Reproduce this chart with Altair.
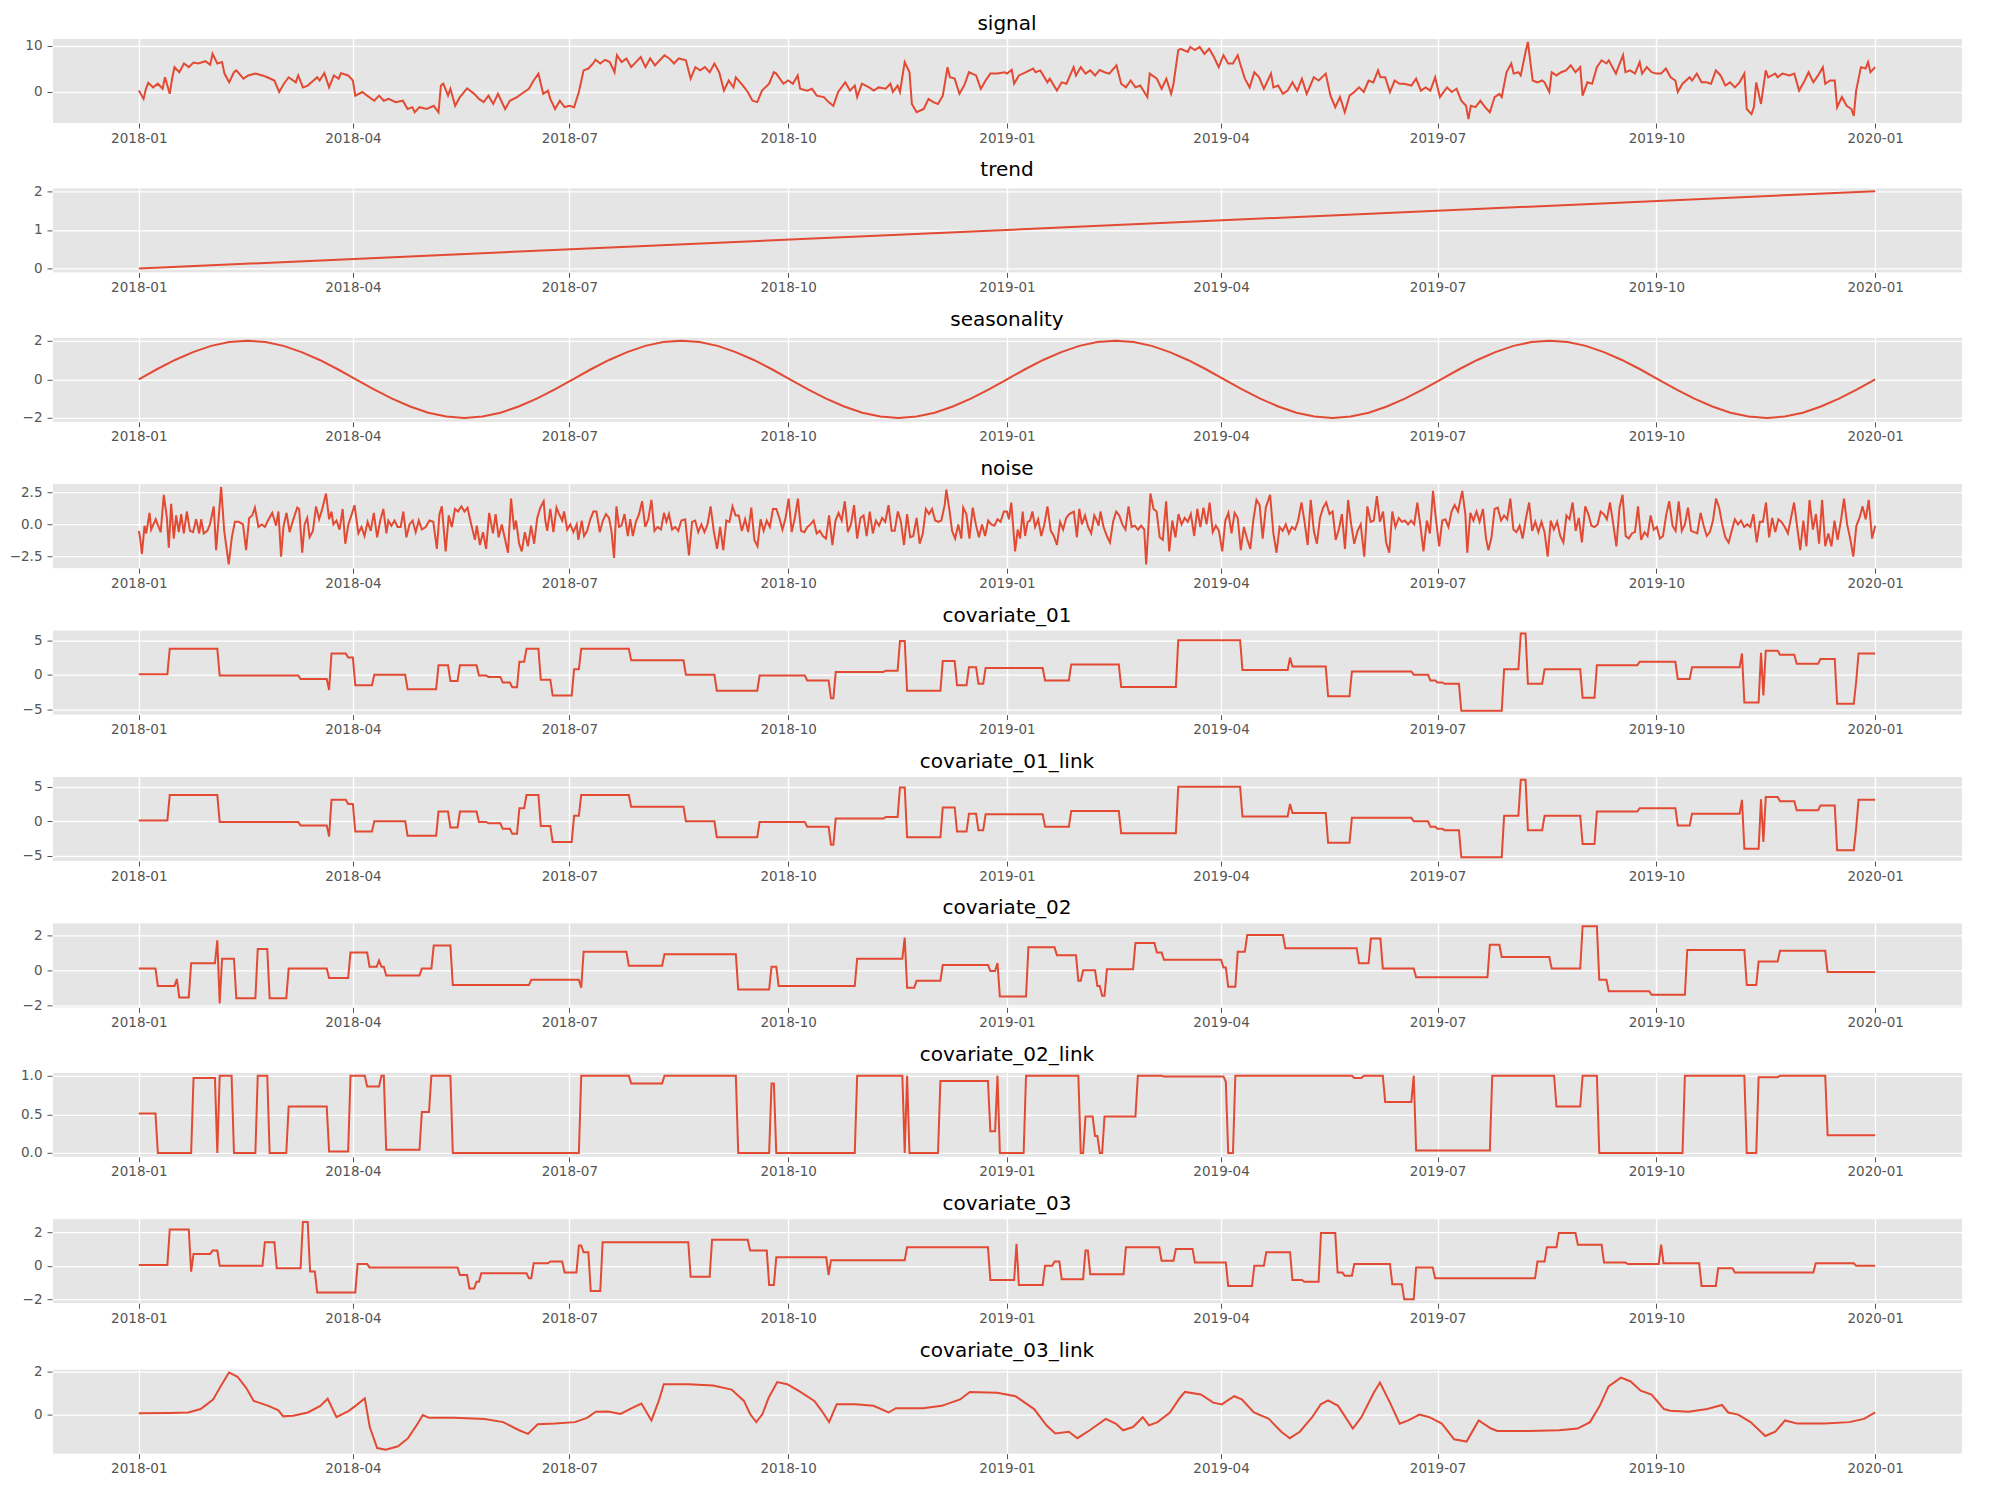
import altair as alt
import numpy as np
import pandas as pd

BASE = pd.Timestamp("2018-01-01")
END_DAY = 730

# ---------------- data ----------------
# (day offset from 2018-01-01, value)
SIGNAL = [(0,0.2),(2,-1.6),(3,0.6),(4,1.9),(6,0.9),(8,1.7),(10,0.6),(11,3.1),(13,-0.5),(14,2.8),(15,5.3),(17,4.2),(19,6.1),(21,5.3),(23,6.3),(25,6.1),(28,6.6),(30,5.8),(31,8.2),(33,6.1),(35,6.4),(36,3.9),(38,2.0),(40,4.2),(41,4.6),(44,2.8),(46,3.5),(49,3.9),(52,3.5),(54,3.1),(57,2.4),(59,-0.1),(61,1.7),(63,3.1),(66,2.0),(67,3.5),(69,0.9),(71,1.3),(75,3.1),(76,2.4),(78,4.0),(80,0.9),(82,3.5),(84,2.8),(85,4.0),(88,3.5),(90,2.4),(91,-0.9),(94,-0.1),(96,-0.9),(99,-2.0),(101,-0.9),(103,-2.0),(105,-1.6),(108,-2.3),(111,-2.0),(113,-3.8),(115,-3.4),(116,-4.5),(118,-3.4),(121,-3.8),(124,-3.1),(126,-4.5),(127,1.3),(128,1.7),(130,-0.9),(131,0.6),(133,-3.1),(135,-1.2),(138,0.7),(141,-0.5),(143,-1.6),(145,-2.3),(147,-0.9),(149,-2.7),(151,-0.5),(154,-3.8),(156,-2.0),(159,-1.2),(162,-0.1),(164,0.6),(166,2.4),(168,3.9),(170,-0.5),(172,0.2),(173,-1.6),(175,-3.8),(177,-2.0),(179,-3.4),(181,-3.1),(183,-3.4),(185,-0.1),(187,4.6),(189,5.0),(191,6.1),(192,6.9),(194,6.1),(196,6.9),(198,6.4),(200,4.2),(201,7.9),(203,6.4),(205,7.2),(207,5.3),(209,6.4),(211,7.5),(213,5.3),(215,7.2),(217,5.7),(219,6.8),(221,7.9),(223,7.2),(225,6.1),(227,7.2),(230,6.8),(232,2.8),(234,5.3),(236,4.6),(238,5.3),(240,4.2),(242,6.1),(244,4.2),(246,0.2),(248,2.4),(250,0.9),(251,3.1),(254,1.3),(256,-0.1),(258,-2.0),(260,-2.3),(262,0.2),(265,1.7),(267,4.2),(268,3.9),(271,1.7),(273,2.4),(275,1.7),(277,3.5),(278,0.6),(281,0.2),(283,0.6),(285,-0.9),(288,-1.2),(290,-2.3),(292,-3.1),(294,-0.1),(297,2.0),(299,0.2),(301,1.3),(302,-1.2),(304,1.7),(307,0.9),(309,0.2),(311,0.9),(314,0.6),(316,1.7),(317,-0.1),(319,1.3),(320,-0.1),(322,6.4),(324,4.2),(325,-2.7),(327,-4.5),(330,-3.8),(332,-1.6),(334,-2.3),(336,-2.7),(338,-0.9),(340,5.3),(341,3.1),(343,2.8),(345,-0.5),(347,1.3),(349,4.2),(352,3.5),(354,0.6),(356,2.4),(358,3.9),(361,3.9),(364,4.2),
          (365,3.9),(367,4.7),(368,1.7),(370,3.5),(373,4.2),(376,5.0),(377,4.2),(379,4.6),(382,2.0),(383,2.8),(386,0.2),(388,2.0),(390,1.7),(393,5.3),(394,3.5),(396,5.3),(398,3.9),(400,4.6),(402,3.5),(404,4.7),(406,4.2),(408,3.9),(411,5.7),(413,1.7),(415,0.9),(417,2.4),(419,0.9),(421,1.3),(424,-1.2),(425,3.9),(428,2.8),(430,0.6),(432,2.8),(434,-0.5),(435,1.7),(437,9.0),(438,9.3),(441,8.6),(442,9.7),(444,9.0),(446,9.7),(448,8.2),(450,9.3),(452,7.5),(454,5.3),(456,7.9),(458,6.1),(460,6.1),(462,7.9),(463,6.1),(465,2.8),(467,0.9),(469,4.2),(471,3.1),(473,0.6),(476,3.9),(477,0.9),(479,1.3),(481,-0.5),(483,0.2),(485,2.0),(487,0.2),(489,2.8),(491,-0.5),(494,3.1),(496,2.4),(499,3.9),(501,-0.9),(503,-3.4),(505,-1.2),(507,-4.5),(509,-0.9),(511,-0.1),(513,0.9),(515,-0.1),(517,2.4),(519,2.0),(521,4.6),(522,3.1),(524,3.1),(526,-0.1),(528,2.4),(530,1.7),(532,1.7),(535,1.3),(537,2.8),(539,0.2),(541,0.9),(543,0.2),(545,3.1),(547,-1.2),(549,0.2),(550,0.9),(552,-0.1),(554,0.6),(556,-2.0),(558,-3.1),(559,-6.0),(560,-3.1),(562,-3.4),(564,-2.0),(566,-3.4),(568,-4.5),(570,-1.2),(572,-0.5),(573,-1.2),(575,4.2),(577,6.1),(578,3.9),(580,4.2),(581,3.5),(583,8.6),(584,10.8),(586,2.4),(588,2.0),(590,2.4),(591,2.0),(593,-0.1),(594,4.2),(596,3.5),(598,4.2),(600,4.6),(602,5.7),(604,4.2),(606,5.3),(607,-0.9),(609,2.0),(611,1.7),(613,5.3),(615,6.8),(617,6.1),(618,6.8),(621,3.9),(622,5.3),(624,7.9),(625,4.2),(627,4.6),(629,3.9),(631,6.4),(632,3.9),(634,5.3),(636,4.2),(638,3.9),(640,3.9),(642,5.0),(644,3.1),(646,2.4),(647,-0.1),(649,1.7),(652,3.1),(653,2.4),(655,3.9),(657,2.0),(659,2.0),(661,1.7),(663,4.6),(665,3.5),(667,1.3),(669,2.0),(671,0.9),(673,2.0),(675,3.9),(676,-3.8),(678,-4.9),(679,-3.4),(680,2.0),(682,-2.7),(684,4.6),(685,3.1),(688,3.9),(689,3.1),(691,3.9),(694,3.5),(696,3.9),(698,0.2),(700,2.0),(702,4.2),(704,2.0),(706,3.5),(708,5.3),(709,1.7),(711,2.4),(713,2.4),(714,-3.4),(716,-1.2),(718,-3.1),(720,-3.8),(721,-5.3),(722,0.2),(724,5.3),(726,5.0),(727,6.4),(728,4.2),(730,5.3)]

TREND = [(0, 0.0), (730, 2.0)]

SEASON_VALUES = [0.0,0.52,1.0,1.41,1.73,1.93,2.0,1.93,1.73,1.41,1.0,0.52,0.0,-0.52,-1.0,-1.41,-1.73,-1.93,-2.0,-1.93,-1.73,-1.41,-1.0,-0.52,
                 0.0,0.52,1.0,1.41,1.73,1.93,2.0,1.93,1.73,1.41,1.0,0.52,0.0,-0.52,-1.0,-1.41,-1.73,-1.93,-2.0,-1.93,-1.73,-1.41,-1.0,-0.52,
                 0.0,0.52,1.0,1.41,1.73,1.93,2.0,1.93,1.73,1.41,1.0,0.52,0.0,-0.52,-1.0,-1.41,-1.73,-1.93,-2.0,-1.93,-1.73,-1.41,-1.0,-0.52,
                 0.0,0.52,1.0,1.41,1.73,1.93,2.0,1.93,1.73,1.41,1.0,0.52,0.0,-0.52,-1.0,-1.41,-1.73,-1.93,-2.0,-1.93,-1.73,-1.41,-1.0,-0.52,
                 0.0]

NOISE_2018 = [(0,-0.5),(0.5,-1.0),(1.3,-2.3),(2.4,-0.1),(3.1,-0.7),(4.5,0.9),(5.2,-0.4),(7.1,0.4),(7.9,0.0),(9.2,-0.6),(10.5,2.3),(11.8,0.5),(12.6,-1.8),(13.6,1.6),(14.7,-1.1),(15.7,0.7),(16.8,-0.6),(17.8,0.8),(18.9,-0.7),(20.2,1.0),(21.5,-0.5),(22.8,-0.6),(24.1,0.4),(25.4,-0.7),(26.2,0.4),(27.3,-0.7),(28.8,-0.5),(29.9,0.0),(31.5,1.4),(32.5,-2.0),(34.6,2.9),(35.9,-0.5),(37.8,-3.1),(39.1,-1.0),(40.4,0.2),(42.0,0.2),(43.8,0.0),(45.1,-2.0),(46.4,0.5),(47.7,0.7),(48.8,1.3),(50.3,-0.2),(51.7,0.0),(53.0,-0.2),(54.3,0.3),(56.1,0.9),(57.7,-0.1),(58.7,1.0),(59.8,-2.5),(60.8,-0.2),(62.1,0.9),(63.4,-0.6),(64.8,0.3),(66.6,1.3),(67.4,1.2),(68.7,-2.2),(69.7,0.0),(70.8,0.5),(71.8,-1.0),(73.2,-0.5),(74.5,1.4),(75.8,0.4),(77.1,1.2),(78.7,2.4),(80.0,0.4),(81.0,1.0),(81.8,0.0),(83.1,0.3),(84.4,-0.4),(85.7,1.2),(86.8,-1.5),(88.1,0.0),(89.7,0.9),(90.7,1.5),(92.3,-0.7),(93.6,-0.2),(94.9,-0.9),(96.2,0.2),(97.5,-0.5),(98.8,0.9),(100.2,-1.0),(101.5,0.3),(102.8,1.2),(104.1,-0.7),(104.9,0.3),(106.2,-0.1),(107.5,0.3),(108.8,-0.2),(110.1,-0.2),(111.2,1.0),(112.5,-1.0),(113.8,0.0),(115.1,0.3),(116.4,-0.6),(117.7,0.3),(119.0,-0.4),(120.6,-0.2),(122.2,0.3),(123.8,0.2),(125.3,-1.9),(126.4,0.8),(127.4,1.4),(129.0,-2.1),(130.3,0.7),(131.6,-0.2),(132.9,1.2),(134.2,1.0),(135.6,1.4),(136.9,1.0),(138.2,1.3),(139.5,0.2),(141.3,-1.2),(142.1,-0.1),(143.4,-1.6),(144.7,-0.6),(146.0,-1.9),(147.3,0.9),(148.9,-0.7),(150.0,0.8),(151.3,-1.0),(152.6,0.0),(153.9,-1.1),(155.2,-2.2),(156.5,2.0),(157.8,-0.4),(158.6,0.3),(159.9,-1.5),(161.0,-2.1),(162.3,-0.6),(163.6,-1.7),(164.9,-0.1),(166.2,-1.5),(167.5,0.5),(168.8,1.3),(170.2,1.8),(170.9,0.3),(171.7,-0.5),(173.0,1.2),(174.3,-0.6),(175.6,1.3),(176.7,0.8),(178.0,0.3),(178.8,1.0),(180.1,-0.4),(181.4,0.0),(182.7,-0.6),(184.1,0.0),(184.8,-1.2),(186.2,0.3),(187.2,-0.9),(188.5,-0.5),(189.8,0.4),(191.1,1.0),(192.4,1.0),(193.8,-0.6),(195.1,0.3),(196.4,0.8),(197.7,0.5),(198.7,-0.5),(199.8,-2.6),(200.8,1.4),(201.9,-0.2),(202.9,-0.1),(204.2,0.8),(205.6,-0.9),(206.6,0.4),(207.7,-0.9),(209.0,0.2),(210.3,0.8),(211.6,1.8),(212.9,-0.2),(214.2,0.4),(215.5,1.9),(216.8,-0.5),(218.1,-0.2),(219.5,-0.4),(220.8,0.9),(221.8,0.2),(222.9,0.8),(224.2,-0.4),(225.5,-0.2),(226.8,-0.5),(228.1,0.3),(229.7,0.4),(231.3,-2.4),(232.6,0.2),(233.9,0.3),(235.2,-0.6),(236.5,0.0),(237.8,-0.6),(239.1,0.0),(240.4,1.4),(241.7,-0.5),(243.1,-1.9),(244.4,-0.2),(245.7,-2.0),(247.0,0.3),(248.3,0.2),(249.6,1.4),(250.9,0.7),(252.2,0.7),(253.5,-0.5),(254.9,0.4),(256.2,-0.6),(257.5,1.3),(258.8,-1.2),(260.1,-1.7),(261.4,0.4),(262.7,-0.5),(264.0,0.3),(265.3,-0.2),(266.6,1.2),(268.0,1.2),(269.3,0.5),(270.6,-0.4),(271.9,0.5),(273.2,2.0),(274.5,-0.6),(275.8,0.5),(277.1,2.0),(278.4,-0.5),(279.8,-0.6),(281.1,-0.2),(282.4,0.0),(283.7,0.3),(285.0,-0.7),(286.3,-0.5),(287.6,-0.9),(288.9,-1.1),(290.2,0.7),(291.6,-1.6),(292.9,0.3),(294.2,0.9),(295.5,0.3),(296.8,1.8),(298.1,-0.6),(299.4,0.0),(300.7,1.5),(302.0,-1.1),(303.4,0.5),(304.7,0.7),(306.0,-0.9),(307.3,1.0),(308.6,-0.7),(309.9,0.3),(311.2,-0.1),(312.5,0.5),(313.8,0.2),(315.2,1.5),(316.5,-0.5),(317.8,-0.5),(319.1,1.0),(320.4,0.2),(321.7,-1.6),(323.0,0.8),(324.3,-1.0),(325.6,-0.9),(327.0,0.5),(328.3,-1.5),(329.6,-0.7),(330.9,1.2),(332.2,0.8),(333.5,1.2),(334.8,0.3),(336.1,0.2),(337.4,0.3),(338.8,1.5),(339.5,2.7),(340.9,1.0),(341.9,-0.5),(343.2,-1.1),(344.5,0.0),(345.8,-1.1),(346.6,1.3),(347.9,0.8),(349.2,-1.1),(350.6,1.3),(351.9,0.0),(353.2,-1.0),(354.5,0.0),(355.8,-0.9),(357.1,0.3),(358.4,0.0),(359.7,-0.1),(361.0,0.4),(362.3,0.2),(363.7,1.0)]

# day offsets counted from 2019-01-01
NOISE_2019 = [(0,1.0),(0.8,0.4),(1.8,1.7),(3.4,-2.1),(4.5,-0.4),(5.5,-1.1),(6.6,1.0),(7.6,-0.9),(8.7,0.2),(9.7,0.3),(10.7,1.0),(11.8,-0.2),(13.1,0.4),(14.4,-0.9),(15.7,0.0),(17.0,1.4),(18.4,-0.5),(19.7,-0.9),(21.0,-1.6),(22.3,0.2),(23.6,-0.4),(24.9,0.5),(26.2,0.8),(28.1,1.0),(29.4,-1.0),(30.4,1.2),(31.5,0.0),(32.8,0.7),(34.1,-0.2),(35.4,-0.7),(36.7,0.7),(37.5,0.4),(38.5,-0.1),(39.3,1.0),(40.6,-0.2),(42.0,-0.9),(43.3,-1.4),(44.6,0.2),(45.9,1.0),(47.2,0.7),(48.5,0.0),(49.8,-0.4),(51.1,1.4),(52.4,-0.2),(53.7,-0.1),(55.1,-0.4),(56.4,-0.1),(57.7,-0.4),(58.5,-3.1),(60.3,2.4),(61.6,1.2),(62.9,1.0),(64.2,-1.0),(65.5,-1.2),(66.9,1.8),(68.2,-2.1),(69.5,0.3),(70.8,-1.0),(72.1,0.8),(73.4,0.0),(74.7,0.5),(76.0,0.2),(77.3,0.8),(78.7,-0.9),(80.0,1.2),(81.3,-0.2),(82.6,1.3),(83.9,0.0),(85.2,1.7),(86.5,-0.6),(87.8,-0.1),(89.1,-0.5),(90.5,-2.1),(91.8,0.3),(93.1,0.9),(94.4,-0.7),(95.7,0.9),(97.0,0.5),(98.3,-2.0),(99.6,-0.2),(100.9,-1.1),(102.3,-1.9),(103.6,0.4),(104.9,1.9),(106.2,1.5),(107.5,-1.1),(108.8,1.3),(110.6,2.3),(112.0,-0.7),(113.3,-2.2),(114.6,-0.2),(115.9,-0.5),(117.2,0.0),(118.5,-0.7),(119.8,-0.2),(121.1,-0.4),(122.4,0.3),(123.8,1.7),(125.1,0.2),(126.4,-1.6),(127.7,1.9),(129.0,-0.5),(130.3,-1.5),(131.6,0.5),(132.9,1.3),(134.2,1.7),(135.6,0.8),(136.9,1.0),(138.2,-1.2),(139.5,-0.4),(140.8,0.8),(142.1,-1.9),(143.4,1.9),(144.7,0.0),(146.0,-1.5),(147.4,-0.5),(148.7,0.0),(150.2,-2.5),(151.5,1.4),(152.9,0.2),(154.2,0.3),(155.5,2.2),(156.8,0.2),(158.1,1.0),(159.4,-1.4),(160.7,-2.2),(162.0,1.0),(163.3,-0.2),(164.7,0.5),(166.0,0.2),(167.3,0.3),(168.6,0.0),(169.9,0.3),(171.2,0.0),(172.5,1.7),(173.8,-0.1),(175.1,-2.1),(176.5,0.3),(177.8,-0.7),(179.1,2.6),(180.4,0.3),(181.7,-1.7),(183.0,0.3),(184.3,0.4),(185.6,-0.2),(186.9,1.0),(188.2,1.5),(189.6,1.0),(191.4,2.6),(192.7,0.8),(193.5,-2.2),(194.8,0.9),(196.1,0.3),(197.4,1.0),(198.7,0.2),(200.1,1.2),(201.4,-1.1),(202.4,-2.0),(203.7,-1.0),(205.0,1.2),(206.3,1.3),(207.7,0.3),(209.0,0.7),(210.3,0.4),(211.6,2.0),(212.9,-0.4),(214.2,-0.6),(215.5,-0.1),(216.8,-1.1),(218.1,0.4),(219.5,1.7),(220.8,-0.5),(222.1,0.2),(223.4,-0.6),(224.7,0.2),(226.0,-0.6),(227.3,-2.5),(228.6,0.3),(229.9,-0.4),(231.3,0.2),(232.6,-0.9),(233.9,-1.4),(235.2,0.7),(236.5,0.4),(237.8,1.7),(239.1,-0.5),(240.4,0.5),(241.7,-1.4),(243.1,1.4),(244.4,0.8),(245.7,-0.1),(247.0,-0.2),(248.3,0.0),(249.6,1.0),(250.9,0.8),(252.2,0.4),(253.5,1.7),(254.9,0.0),(256.2,-1.7),(257.5,1.3),(258.8,2.3),(260.1,-0.9),(261.4,-1.1),(262.7,-0.7),(264.0,-0.6),(265.3,1.4),(266.6,-1.2),(268.0,-0.6),(269.3,-0.9),(270.6,0.7),(271.9,-0.4),(273.2,-0.2),(274.5,-1.1),(275.8,-0.9),(277.1,0.7),(278.4,1.8),(279.8,-0.1),(281.1,-0.5),(282.4,1.8),(283.7,-0.5),(285.0,0.0),(286.3,1.3),(287.6,-0.5),(288.9,-0.6),(290.2,-0.7),(291.6,0.9),(292.9,-0.1),(294.2,-0.9),(295.5,-0.6),(296.8,0.3),(298.1,2.0),(299.4,1.3),(300.7,0.0),(302.0,-1.0),(303.4,-1.4),(304.7,-0.5),(306.0,0.4),(307.3,0.0),(308.6,0.3),(309.9,-0.2),(311.2,0.0),(312.5,-0.2),(313.8,0.8),(315.2,-1.4),(316.5,0.2),(317.8,0.2),(319.1,1.7),(320.4,-1.0),(321.7,0.5),(323.0,-0.6),(324.3,0.4),(325.6,0.2),(327.0,-0.2),(328.3,-0.7),(329.6,0.5),(330.9,1.7),(332.2,-0.2),(333.5,-2.0),(334.8,0.3),(336.1,-1.7),(337.4,1.9),(338.8,-0.4),(340.1,0.8),(341.4,-1.5),(342.7,1.9),(344.0,-1.7),(345.3,-0.7),(346.6,-1.7),(347.9,0.3),(349.2,-1.2),(350.6,0.3),(351.9,2.0),(353.2,0.0),(354.5,-1.1),(355.8,-2.5),(357.1,-0.1),(358.4,0.5),(359.7,1.4),(361.0,0.4),(362.3,1.9),(363.7,-1.1),(365.0,-0.1)]

# step series: (first day of the level, level)
COV01 = [(0,0.1),(13,3.8),(34,-0.1),(68,-0.6),(80,-2.2),(81,3.1),(88,2.5),(91,-1.5),(99,0.0),(113,-2.1),(126,1.4),(131,-0.9),(135,1.4),(143,-0.1),(147,-0.3),(153,-1.1),(157,-1.8),(160,1.9),(163,3.8),(169,-0.7),(174,-3.0),(183,0.8),(186,3.8),(207,2.1),(230,0.0),(243,-2.3),(261,-0.1),(281,-0.8),(291,-3.4),(293,0.4),(314,0.6),(320,4.9),(323,-2.3),(338,2.0),(344,-1.5),(349,1.1),(353,-1.3),(356,1.0),(381,-0.8),(392,1.5),(413,-1.75),(437,5.0),(464,0.7),(484,2.5),(485,1.2),(500,-3.1),(510,0.5),(536,0.0),(543,-0.8),(546,-1.1),(549,-1.3),(556,-5.2),(574,0.8),(581,6.0),(584,-1.3),(591,0.8),(607,-3.3),(613,1.4),(631,1.9),(647,-0.6),(653,1.1),(674,3.1),(675,-4.0),(682,3.2),(683,-3.0),(684,3.5),(690,2.9),(697,1.6),(707,2.3),(714,-4.2),(722,-1.0),(723,3.1)]
COV01_LINK = list(COV01)

COV02 = [(0,0.1),(8,-0.9),(16,-0.5),(17,-1.55),(22,0.4),(33,1.7),(34,-1.9),(35,0.65),(41,-1.6),(50,1.2),(55,-1.6),(63,0.1),(80,-0.45),(89,1.0),(97,0.2),(101,0.55),(102,0.2),(104,-0.3),(119,0.1),(124,1.4),(132,-0.85),(165,-0.55),(186,-1.0),(187,1.05),(206,0.25),(221,0.9),(252,-1.1),(266,0.2),(269,-0.9),(302,0.65),(322,1.85),(323,-1.0),(327,-0.6),(338,0.3),(358,-0.05),(361,0.4),(362,-1.5),(374,1.3),(386,0.85),(395,-0.6),(397,0.0),(403,-0.9),(405,-1.45),(407,0.05),(419,1.55),(428,1.0),(431,0.6),(456,0.15),(458,-0.95),(462,1.05),(466,2.0),(482,1.25),(513,0.4),(518,1.8),(523,0.1),(537,-0.4),(568,1.45),(573,0.75),(594,0.1),(607,2.5),(614,-0.55),(618,-1.2),(636,-1.4),(651,1.15),(676,-0.85),(681,0.5),(690,1.1),(710,-0.1)]

COV02_LINK = [(0,0.51),(8,0.0),(23,0.97),(33,0.0),(34,1.0),(40,0.0),(50,1.0),(55,0.0),(63,0.6),(80,0.02),(89,1.0),(96,0.86),(102,1.0),(104,0.04),(119,0.53),(123,1.0),(132,0.0),(186,1.0),(207,0.9),(221,1.0),(252,0.0),(266,0.9),(268,0.0),(302,1.0),(322,0.0),(323,1.0),(324,0.0),(337,0.93),(358,0.28),(361,1.0),(362,0.0),(373,1.0),(396,0.0),(398,0.47),(402,0.22),(404,0.0),(406,0.47),(420,1.0),(431,0.99),(457,0.92),(458,0.0),(461,1.0),(511,0.97),(515,1.0),(524,0.66),(536,1.0),(537,0.03),(569,1.0),(596,0.6),(607,1.0),(614,0.0),(650,1.0),(676,0.0),(681,0.98),(690,1.0),(710,0.23)]

COV03 = [(0,0.05),(13,2.15),(22,-0.35),(23,0.7),(31,0.9),(34,0.0),(53,1.4),(58,-0.15),(69,2.6),(72,-0.35),(75,-1.6),(92,0.1),(97,-0.1),(135,-0.55),(139,-1.35),(142,-0.95),(144,-0.45),(164,-0.75),(166,0.15),(173,0.25),(179,-0.4),(185,1.2),(187,0.8),(190,-1.5),(195,1.4),(232,-0.65),(241,1.55),(257,0.9),(265,-1.15),(268,0.5),(290,-0.55),(291,0.33),(323,1.1),(358,-0.85),(369,1.3),(370,-1.15),(381,0.0),(385,0.25),(388,-0.8),(398,0.9),(400,-0.5),(415,1.1),(430,0.3),(436,1.0),(444,0.2),(458,-1.2),(469,0.0),(474,0.8),(485,-0.85),(490,-0.95),(497,1.95),(504,-0.4),(507,-0.6),(511,0.1),(527,-1.1),(532,-2.0),(537,-0.1),(545,-0.75),(588,0.25),(592,1.1),(597,1.95),(605,1.25),(616,0.2),(626,0.1),(640,1.25),(641,0.15),(657,-1.2),(664,-0.15),(671,-0.4),(705,0.15),(722,0.0)]

COV03_LINK = [(0,0.06),(13,0.08),(20.8,0.1),(26,0.26),(31.2,0.7),(34.8,1.4),(37.9,1.97),(41.5,1.77),(45.2,1.24),(48.3,0.64),(54.5,0.41),(58.7,0.2),(60.7,-0.08),(64.9,-0.05),(71.1,0.1),(76.3,0.41),(79.4,0.74),(83.1,-0.12),(88.3,0.18),(91.9,0.48),(95.0,0.76),(97.1,-0.58),(100.2,-1.56),(103.8,-1.64),(109.0,-1.48),(113.2,-1.1),(116.8,-0.5),(119.4,-0.02),(122.0,-0.15),(132.4,-0.15),(145.4,-0.2),(153.2,-0.35),(159.9,-0.73),(163.6,-0.9),(167.7,-0.45),(175.0,-0.42),(183.3,-0.35),(188.5,-0.15),(192.1,0.14),(197.3,0.15),(202.5,0.03),(207.7,0.33),(211.3,0.52),(215.5,-0.27),(218.6,0.64),(220.7,1.42),(231.0,1.42),(241.4,1.36),(249.2,1.17),(254.4,0.64),(257.0,0.03),(259.6,-0.35),(262.2,0.03),(264.8,0.79),(268.4,1.52),(272.6,1.42),(277.8,1.09),(284.0,0.64),(287.1,0.18),(290.2,-0.35),(293.4,0.48),(301.2,0.48),(308.9,0.41),(315.2,0.1),(318.3,0.3),(329.7,0.3),(337.5,0.41),(345.3,0.71),(349.4,1.06),(360.9,1.02),(368.6,0.86),(376.4,0.26),(381.6,-0.5),(385.3,-0.88),(391.0,-0.8),(394.6,-1.1),(399.8,-0.73),(406.5,-0.2),(410.7,-0.42),(413.8,-0.73),(418.0,-0.58),(422.1,-0.12),(424.7,-0.5),(428.3,-0.35),(433.5,0.1),(437.7,0.79),(439.8,1.06),(446.5,0.94),(451.7,0.56),(455.3,0.48),(460.5,0.86),(463.7,0.71),(468.8,0.1),(475.1,-0.2),(480.3,-0.8),(483.9,-1.1),(488.1,-0.8),(493.3,-0.12),(496.9,0.48),(500.0,0.67),(504.2,0.41),(510.4,-0.65),(514.0,-0.12),(519.2,1.02),(521.8,1.5),(526.0,0.56),(530.1,-0.42),(533.7,-0.27),(538.4,0.0),(542.6,-0.12),(547.8,-0.42),(553.0,-1.15),(558.2,-1.26),(563.3,-0.27),(568.5,-0.65),(571.1,-0.76),(584.1,-0.76),(597.1,-0.73),(604.9,-0.65),(610.1,-0.35),(614.2,0.41),(617.9,1.32),(623.1,1.73),(627.2,1.55),(631.4,1.12),(636.0,0.94),(641.2,0.26),(643.8,0.18),(651.6,0.14),(659.4,0.26),(665.6,0.45),(668.2,0.1),(672.4,0.0),(677.6,-0.35),(683.8,-1.0),(688.0,-0.8),(692.1,-0.27),(697.3,-0.42),(708.7,-0.42),(719.1,-0.35),(725.3,-0.2),(730,0.1)]

TICK_DATES = ["2018-01", "2018-04", "2018-07", "2018-10", "2019-01", "2019-04", "2019-07", "2019-10", "2020-01"]

# ---------------- helpers ----------------
def pairs_df(pairs):
    d = np.array([p[0] for p in pairs], dtype=float)
    v = [p[1] for p in pairs]
    return pd.DataFrame({"date": BASE + pd.to_timedelta(d, unit="D"), "value": v})


def steps_df(segments):
    days, vals = [], []
    for i, (s, lv) in enumerate(segments):
        e = segments[i + 1][0] - 1 if i + 1 < len(segments) else END_DAY
        days.append(s); vals.append(lv)
        if e > s:
            days.append(e); vals.append(lv)
    return pairs_df(list(zip(days, vals)))


signal_df = pairs_df(SIGNAL)
trend_df = pairs_df(TREND)
season_df = pairs_df(list(zip(np.linspace(0, END_DAY, len(SEASON_VALUES)), SEASON_VALUES)))
noise_df = pairs_df(NOISE_2018 + [(365 + d, v) for d, v in NOISE_2019])
cov01_df = steps_df(COV01)
cov01l_df = steps_df(COV01_LINK)
cov02_df = steps_df(COV02)
cov02l_df = steps_df(COV02_LINK)
cov03_df = steps_df(COV03)
cov03l_df = pairs_df(COV03_LINK)

X_DOMAIN = [alt.DateTime(year=2017, month=11, date=25, hours=12),
            alt.DateTime(year=2020, month=2, date=6, hours=12)]
X_VALUES = [alt.DateTime(year=int(t[:4]), month=int(t[5:]), date=1) for t in TICK_DATES]

LINE = "#E24A33"


def panel(df, title, ticks, fmt):
    lo, hi = float(df["value"].min()), float(df["value"].max())
    r = hi - lo
    dom = [lo - 0.05 * r, hi + 0.05 * r]
    return alt.Chart(df).mark_line(color=LINE, strokeWidth=2, clip=True).encode(
        x=alt.X("date:T", title=None,
                scale=alt.Scale(domain=X_DOMAIN),
                axis=alt.Axis(values=X_VALUES, format="%Y-%m", labelFlush=False,
                              labelOverlap=False)),
        y=alt.Y("value:Q", title=None,
                scale=alt.Scale(domain=dom, nice=False, zero=False),
                axis=alt.Axis(values=ticks, format=fmt, labelOverlap=False)),
    ).properties(
        width=1910, height=85,
        title=alt.TitleParams(text=title, fontSize=20, font="DejaVu Sans",
                              fontWeight="normal", color="#000000", offset=4,
                              anchor="middle"),
    )


panels = [
    panel(signal_df, "signal", [0, 10], "d"),
    panel(trend_df, "trend", [0, 1, 2], "d"),
    panel(season_df, "seasonality", [-2, 0, 2], "d"),
    panel(noise_df, "noise", [-2.5, 0, 2.5], ".1f"),
    panel(cov01_df, "covariate_01", [-5, 0, 5], "d"),
    panel(cov01l_df, "covariate_01_link", [-5, 0, 5], "d"),
    panel(cov02_df, "covariate_02", [-2, 0, 2], "d"),
    panel(cov02l_df, "covariate_02_link", [0.0, 0.5, 1.0], ".1f"),
    panel(cov03_df, "covariate_03", [-2, 0, 2], "d"),
    panel(cov03l_df, "covariate_03_link", [0, 2], "d"),
]

chart = alt.vconcat(*panels, spacing=14.4).properties(
    padding={"left": 0, "top": 5, "right": 5, "bottom": 5},
    background="#FFFFFF",
).configure_view(
    fill="#E5E5E5", stroke="#FFFFFF", strokeWidth=1,
).configure_axis(
    labelFont="DejaVu Sans", labelFontSize=13.5, labelColor="#555555",
    tickColor="#555555", tickSize=5, tickWidth=1, domain=False,
    grid=True, gridColor="#FFFFFF", gridWidth=1.3, gridOpacity=1,
).configure_axisX(
    labelPadding=3,
).configure_axisY(
    labelPadding=5, minExtent=39, maxExtent=39,
)

chart.save("out.html", embed_options={"renderer": "svg", "actions": False})
